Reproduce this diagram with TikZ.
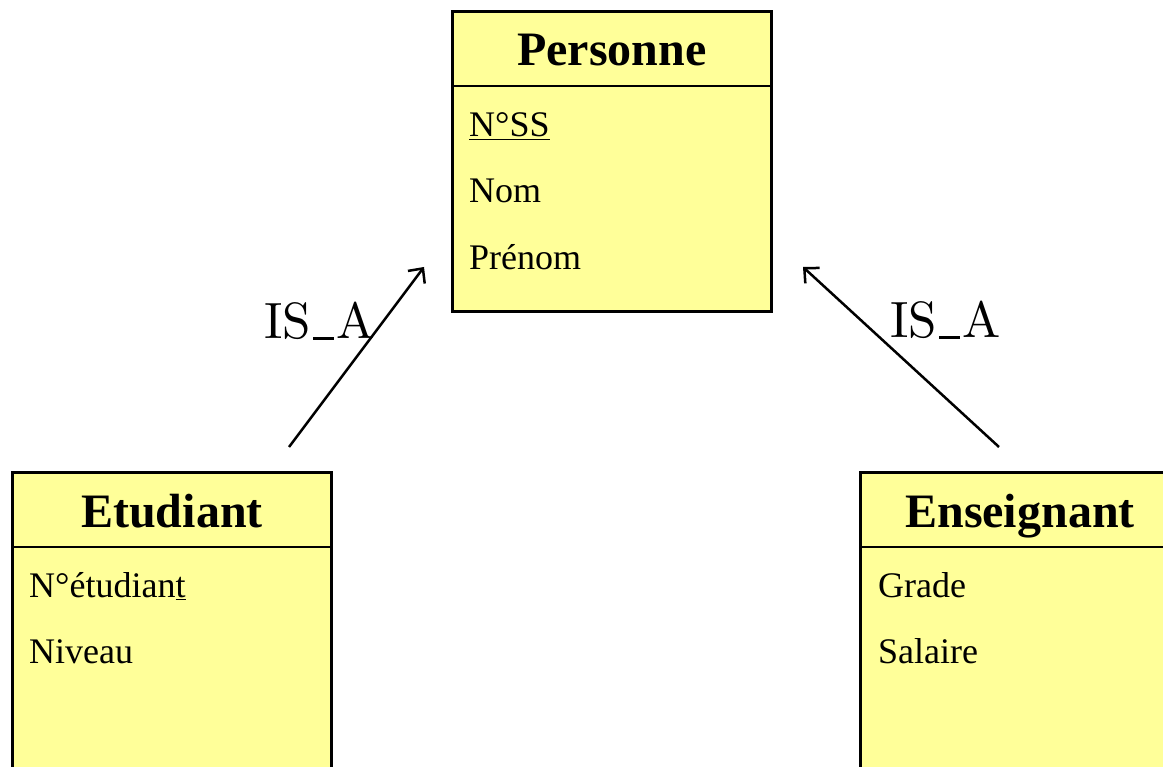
\documentclass[tikz,border=0pt]{standalone}
\usepackage{fontspec}
\newfontfamily\tnr{Liberation Serif}
\newfontfamily\cmten{lmroman10-regular}[Extension=.otf]
\usetikzlibrary{positioning,calc,arrows.meta}
\definecolor{boxyellow}{RGB}{255,255,153}
% short underscore, as in the old OT1 fonts
\newcommand\shortus{\leavevmode\kern.04em\vrule height 1.6pt depth 0.9pt width .42em\kern.04em}

\tikzset{
  entity/.style={draw, line width=3pt, fill=boxyellow, anchor=north west,
    inner sep=0pt, minimum width=319pt},
  title/.style={anchor=base, font=\tnr\fontsize{48}{56}\selectfont\bfseries},
  attr/.style={anchor=base west, inner sep=0pt, font=\tnr\fontsize{36}{42}\selectfont},
  isa/.style={->, line width=2.5pt, >={Straight Barb[length=11pt, width=21pt]}},
  isalabel/.style={anchor=base west, inner sep=0pt, font=\cmten\fontsize{51}{60}\selectfont}
}

\begin{document}
\begin{tikzpicture}[x=1pt, y=-1pt]
    \path[use as bounding box, clip] (0,0) rectangle (1163,767);
    % Classes
    \node [entity, minimum height=300pt] (personne) at (451,10) {};
    \node [entity, minimum height=330pt] (etudiant) at (11,471) {};
    \node [entity, minimum height=330pt] (enseignant) at (859,471) {};
    % Title separators
    \foreach \c in {personne, etudiant, enseignant}
        \draw [line width=2pt] ($(\c.north west)+(0,76)$) -- ($(\c.north east)+(0,76)$);
    % Personne
    \node [title] (personneT) at ($(personne.north)+(0,56)$) {Personne};
    \node [attr] (nss) at ($(personne.north west)+(18,127)$) {\underline{N°SS}};
    \node [attr] (nom) at ($(personne.north west)+(18,193)$) {Nom};
    \node [attr] (prenom) at ($(personne.north west)+(18,260)$) {Prénom};
    % Etudiant
    \node [title] (etudiantT) at ($(etudiant.north)+(0,56)$) {Etudiant};
    \node [attr] (netud) at ($(etudiant.north west)+(18,126)$) {N°étudian\underline{t}};
    \node [attr] (niveau) at ($(etudiant.north west)+(18,192)$) {Niveau};
    % Enseignant
    \node [title] (enseignantT) at ($(enseignant.north)+(0,56)$) {Enseignant};
    \node [attr] (grade) at ($(enseignant.north west)+(19,126)$) {Grade};
    \node [attr] (salaire) at ($(enseignant.north west)+(19,192)$) {Salaire};
    % Inheritance links
    \coordinate (isaL1) at (289,447);
    \coordinate (isaL2) at (424,267);
    \coordinate (isaR1) at (999,447);
    \coordinate (isaR2) at (803,267);
    \draw [isa] (isaL1) -- (isaL2);
    \draw [isa] (isaR1) -- (isaR2);
    \node [isalabel] (isaleft) at (264,339) {IS\shortus A};
    \node [isalabel] (isaright) at (890,338) {IS\shortus A};
\end{tikzpicture}
\end{document}
